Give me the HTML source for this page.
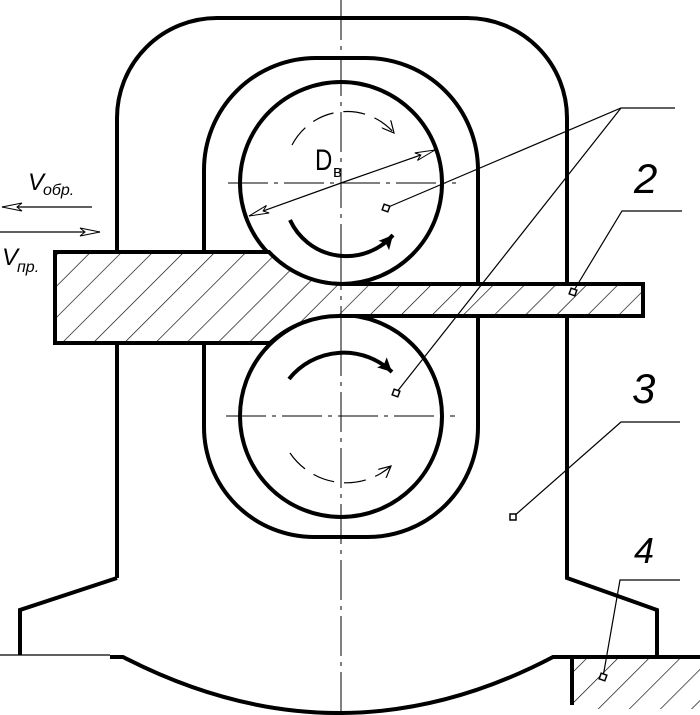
<!DOCTYPE html>
<html><head><meta charset="utf-8"><style>
html,body{margin:0;padding:0;background:#fff;}
svg{display:block;}
text{font-family:"Liberation Sans",sans-serif;font-style:italic;fill:#000;}
</style></head><body>
<svg width="700" height="715" viewBox="0 0 700 715" xmlns="http://www.w3.org/2000/svg">
<defs>
<pattern id="h" patternUnits="userSpaceOnUse" width="22" height="22" patternTransform="rotate(45)">
<line x1="0" y1="0" x2="0" y2="22" stroke="#000" stroke-width="1.3"/>
</pattern>
<marker id="oa" markerWidth="22" markerHeight="10" refX="21" refY="5" orient="auto" markerUnits="userSpaceOnUse">
<path d="M21,5 L1,1 L6,5 L1,9 Z" fill="#fff" stroke="#000" stroke-width="1"/>
</marker>
<marker id="sa" markerWidth="16" markerHeight="14" refX="14" refY="7" orient="auto" markerUnits="userSpaceOnUse">
<path d="M14,7 L0,0 L3,7 L0,14 Z" fill="#000"/>
</marker>
<marker id="va" markerWidth="14" markerHeight="12" refX="12" refY="6" orient="auto" markerUnits="userSpaceOnUse">
<path d="M0,0 L12,6 L0,12" fill="none" stroke="#000" stroke-width="1.2"/>
</marker>
</defs>

<g stroke="#000" stroke-width="1" stroke-dasharray="40,6,4,6">
<line x1="341" y1="0" x2="341" y2="715"/>
<line x1="228" y1="183" x2="456" y2="183"/>
<line x1="226" y1="416" x2="455" y2="416"/>
</g>

<g fill="none" stroke="#000" stroke-width="4" stroke-linejoin="miter">
<path d="M117,578 V118 A100,100 0 0 1 217,18 H467 A100,100 0 0 1 567,118 V578 L657,610 V658"/>
<path d="M117,578 L20,610 V655"/>
<path d="M204,170 A112,112 0 0 1 316,58 H366 A112,112 0 0 1 478,170 V427 A110,110 0 0 1 368,537 H314 A110,110 0 0 1 204,427 Z"/>
<circle cx="341" cy="183" r="101"/>
<circle cx="341" cy="416" r="101"/>
<path d="M110,657 H123 Q340,769 553,657 H700"/>
<line x1="572" y1="657" x2="572" y2="705"/>
</g>
<line x1="0" y1="655" x2="110" y2="655" stroke="#000" stroke-width="1.2"/>

<clipPath id="gc"><rect x="572" y="659" width="128" height="50"/></clipPath>
<rect x="572" y="659" width="128" height="50" fill="url(#h)" clip-path="url(#gc)"/>

<path d="M55,252 H269 A101,101 0 0 0 341,284 H643 V316 H341 A101,101 0 0 0 270,343 H55 Z" fill="#fff"/>
<path d="M55,252 H269 A101,101 0 0 0 341,284 H643 V316 H341 A101,101 0 0 0 270,343 H55 Z" fill="url(#h)" stroke="#000" stroke-width="4"/>
<line x1="341" y1="250" x2="341" y2="350" stroke="#000" stroke-width="1" stroke-dasharray="40,6,4,6"/>

<g fill="none" stroke="#000">
<path d="M290,220 A62,62 0 0 0 393,235" stroke-width="4" marker-end="url(#sa)"/>
<path d="M292,145 A62,62 0 0 1 394,133" stroke-width="1.2" stroke-dasharray="22,10" marker-end="url(#va)"/>
<path d="M289,379 A70,70 0 0 1 392,372" stroke-width="4" marker-end="url(#sa)"/>
<path d="M290,453 A68,68 0 0 0 391,466" stroke-width="1.2" stroke-dasharray="22,10" marker-end="url(#va)"/>
<line x1="341" y1="183" x2="435" y2="150" stroke-width="1.2" marker-end="url(#oa)"/>
<line x1="341" y1="183" x2="249" y2="216" stroke-width="1.2" marker-end="url(#oa)"/>
<line x1="92" y1="207" x2="2" y2="207" stroke-width="1.2" marker-end="url(#oa)"/>
<line x1="0" y1="232" x2="100" y2="232" stroke-width="1.2" marker-end="url(#oa)"/>
<g stroke-width="1.2">
<polyline points="386,208 621,108 675,108"/>
<line x1="621" y1="108" x2="396" y2="393"/>
<polyline points="573,292 622,211 682,211"/>
<polyline points="513,517 621,422 680,422"/>
<polyline points="603,677 620,580 680,580"/>
</g>
</g>
<g fill="#fff" stroke="#000" stroke-width="1.5">
<rect x="383" y="205" width="6" height="6" transform="rotate(20 386 208)"/>
<rect x="393" y="390" width="6" height="6" transform="rotate(20 396 393)"/>
<rect x="570" y="289" width="6" height="6" transform="rotate(20 573 292)"/>
<rect x="510" y="514" width="6" height="6"/>
<rect x="600" y="674" width="6" height="6" transform="rotate(20 603 677)"/>
</g>

<text x="315" y="170" font-size="30" style="font-style:normal" transform="translate(315 0) scale(0.8 1) translate(-315 0)">D</text>
<text x="333" y="177" font-size="17" style="font-style:normal">в</text>
<text x="28" y="190" font-size="24">V</text><text x="43" y="195" font-size="16">обр.</text>
<text x="2" y="265" font-size="24">V</text><text x="17" y="272" font-size="16">пр.</text>
<text x="634" y="193" font-size="42">2</text>
<text x="632" y="403" font-size="42">3</text>
<text x="634" y="563" font-size="36">4</text>
</svg>
</body></html>
